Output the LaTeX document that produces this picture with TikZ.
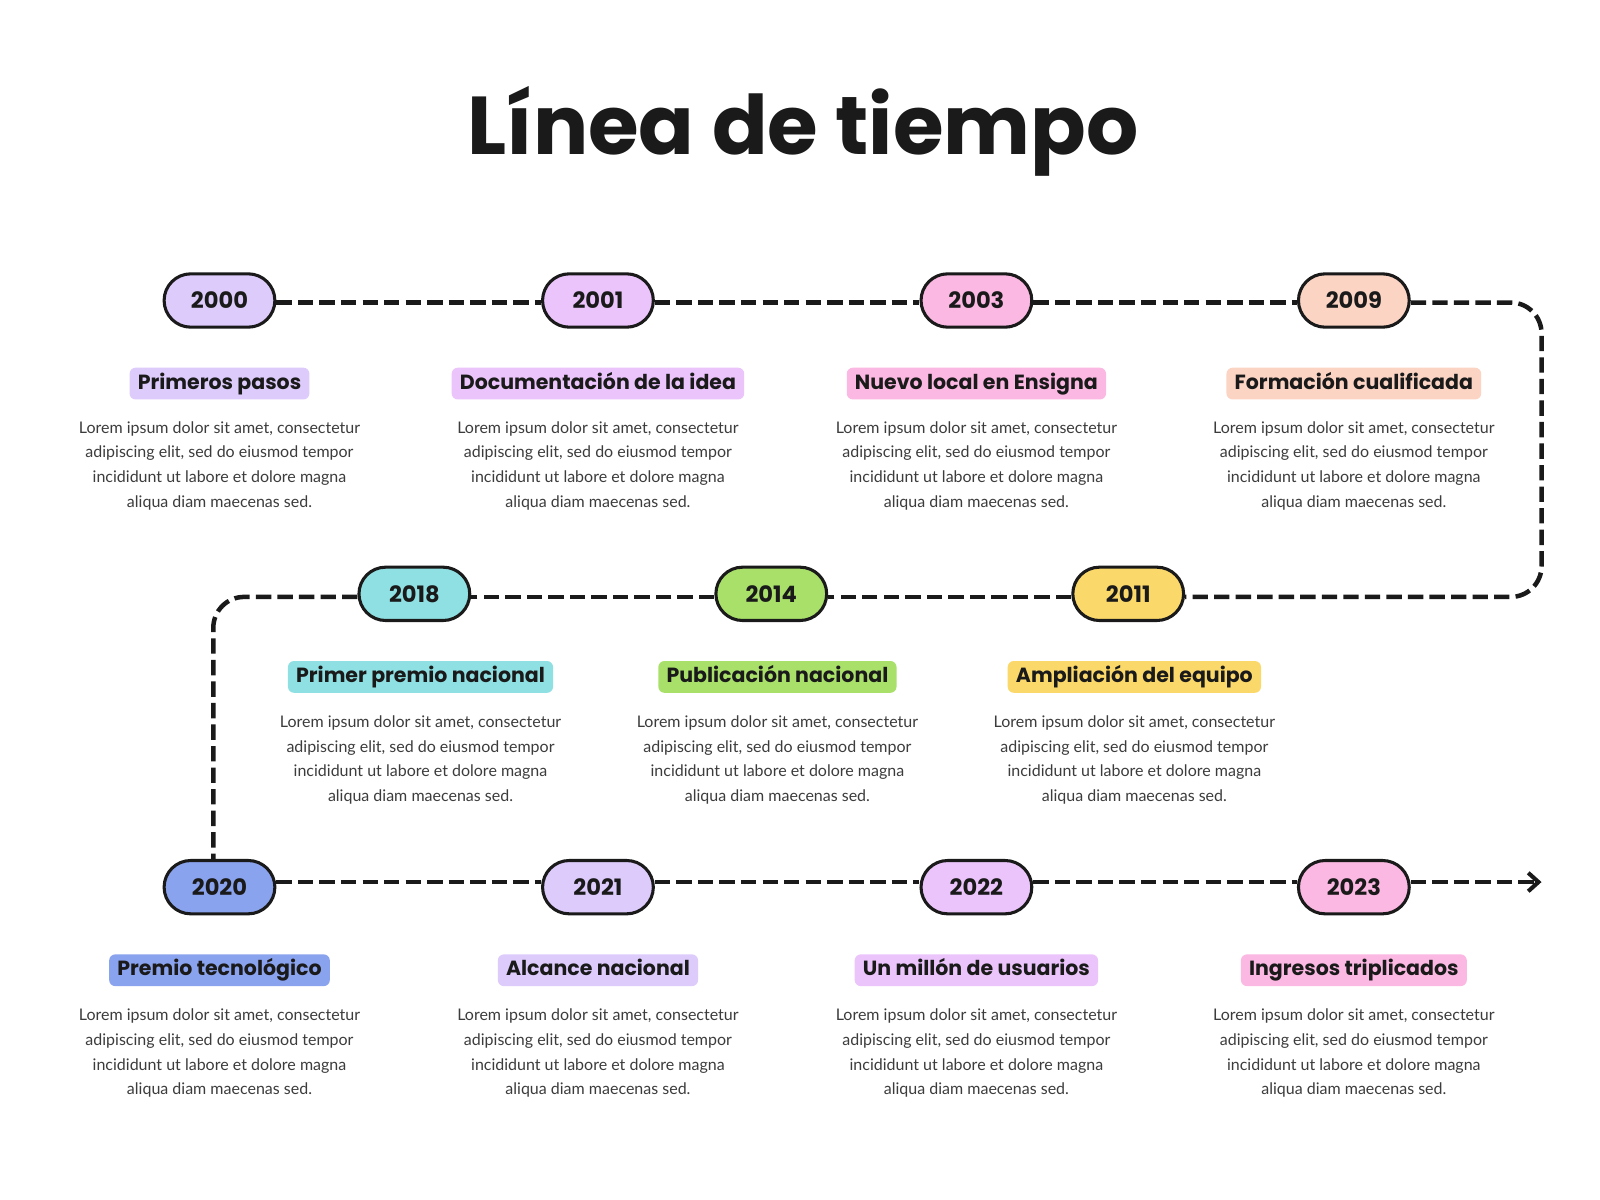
\documentclass[tikz,border=0pt]{standalone}
\usepackage{fontspec}
\setmainfont{Poppins}
\newfontfamily\bodyfont{Lato}
\usetikzlibrary{arrows.meta}
\definecolor{cA}{HTML}{DCCBFB}
\definecolor{cB}{HTML}{EBC4FB}
\definecolor{cC}{HTML}{FBB8E2}
\definecolor{cD}{HTML}{FBD4C4}
\definecolor{cE}{HTML}{8EE0E3}
\definecolor{cF}{HTML}{A8E06A}
\definecolor{cG}{HTML}{FBD86A}
\definecolor{cH}{HTML}{8AA3EE}
\definecolor{ink}{HTML}{1A1A1A}
\begin{document}
\begin{tikzpicture}[x=0.5pt,y=-0.5pt,
 pill/.style={draw=ink,line width=1.5pt,rounded corners=13pt,minimum width=54pt,minimum height=26pt,font=\fontsize{11}{11}\selectfont\bfseries,text=ink,inner sep=0pt},
 lab/.style={rounded corners=3pt,inner xsep=4pt,inner ysep=2.5pt,text height=8pt,text depth=2.5pt,font=\fontsize{10}{10}\selectfont\bfseries,text=ink},
 body/.style={align=center,font=\bodyfont\fontsize{7.8}{12}\selectfont,text=ink!85},
 dline/.style={draw=ink,line width=2.2pt,dash pattern=on 7.5pt off 3pt}]
\fill[white] (0,0) rectangle (1560,1170);
\node[font=\fontsize{40}{40}\selectfont\bfseries,text=ink] (title) at (783,128) {Línea de tiempo};
\def\lorem{Lorem ipsum dolor sit amet, consectetur\\adipiscing elit, sed do eiusmod tempor\\incididunt ut labore et dolore magna\\aliqua diam maecenas sed.}
\coordinate (r1) at (0,295);
\coordinate (r2) at (0,582);
\coordinate (r3) at (0,860);
\coordinate (cx) at (208,0);
\foreach \n/\x/\c/\yr/\t in {a/214/cA/2000/Primeros pasos, b/583/cB/2001/Documentación de la idea, c/952/cC/2003/Nuevo local en Ensigna, d/1320/cD/2009/Formación cualificada}{
 \node[pill,fill=\c] (p\n) at (\x,293) {\yr};
 \node[lab,fill=\c] (l\n) at (\x,374) {\t};
 \node[body] (b\n) at (\x,454) {\lorem};
}
\foreach \n/\x/\c/\yr/\t in {e/404/cE/2018/Primer premio nacional, f/752/cF/2014/Publicación nacional, g/1100/cG/2011/Ampliación del equipo}{
 \node[pill,fill=\c] (p\n) at (\x,579) {\yr};
 \node[lab,fill=\c] (l\n) at (\x+6,660) {\t};
 \node[body] (b\n) at (\x+6,741) {\lorem};
}
\node[pill,fill=cH] (ph) at (214,865) {2020};
\node[lab,fill=cH] (lh) at (214,946) {Premio tecnológico};
\node[body] (bh) at (214,1027) {\lorem};
\foreach \n/\x/\c/\yr/\t in {i/583/cA/2021/Alcance nacional, j/952/cB/2022/Un millón de usuarios, k/1320/cC/2023/Ingresos triplicados}{
 \node[pill,fill=\c] (p\n) at (\x,865) {\yr};
 \node[lab,fill=\c] (l\n) at (\x,946) {\t};
 \node[body] (b\n) at (\x,1027) {\lorem};
}
\coordinate (end) at (1503,860);
\coordinate (k1) at (1503,295);
\coordinate (k2) at (1503,582);
\coordinate (k3) at (208,582);
\draw[dline] (pa.east|-r1) -- (pb.west|-r1);
\draw[dline] (pb.east|-r1) -- (pc.west|-r1);
\draw[dline] (pc.east|-r1) -- (pd.west|-r1);
\draw[dline,rounded corners=15pt] (pd.east|-r1) -- (k1) -- (k2) -- (pg.east|-r2);
\draw[dline] (pg.west|-r2) -- (pf.east|-r2);
\draw[dline] (pf.west|-r2) -- (pe.east|-r2);
\draw[dline,rounded corners=15pt] (pe.west|-r2) -- (k3) -- (ph.north-|cx);
\draw[dline] (ph.east|-r3) -- (pi.west|-r3);
\draw[dline] (pi.east|-r3) -- (pj.west|-r3);
\draw[dline] (pj.east|-r3) -- (pk.west|-r3);
\draw[dline,-{Straight Barb[length=5pt,width=9pt,line width=2pt]}] (pk.east|-r3) -- (end);
\end{tikzpicture}
\end{document}
